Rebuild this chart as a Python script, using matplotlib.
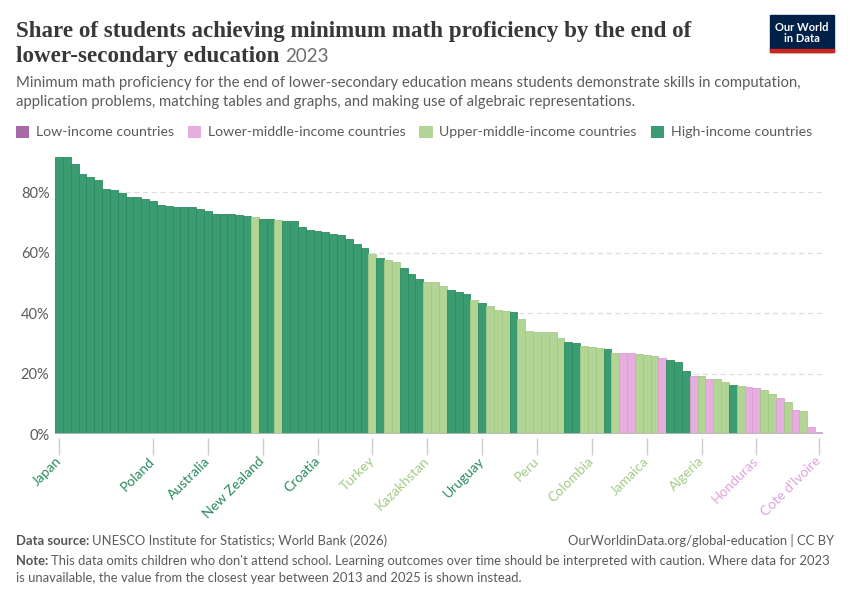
import matplotlib
matplotlib.use("Agg")
import matplotlib.pyplot as plt
from matplotlib.patches import Patch, Rectangle

# values (%), sorted descending
values = [91.8, 91.6, 89.4, 86.2, 85.1, 83.9, 81.0, 80.6, 79.7, 78.4,
          78.4, 77.9, 77.0, 75.7, 75.4, 75.2, 75.2, 75.1, 74.4, 73.7,
          72.8, 72.8, 72.7, 72.6, 72.2, 71.7, 71.3, 71.2, 70.7, 70.6,
          70.4, 68.5, 67.4, 67.1, 66.8, 66.1, 65.9, 64.6, 62.8, 61.4,
          59.5, 58.1, 57.6, 57.0, 55.0, 52.8, 51.4, 50.4, 50.4, 48.9,
          47.6, 46.9, 46.4, 44.3, 43.5, 42.4, 41.1, 40.6, 40.4, 38.0,
          34.2, 33.9, 33.8, 33.6, 31.8, 30.4, 30.0, 29.0, 28.7, 28.5,
          28.0, 26.9, 26.7, 26.7, 26.6, 26.2, 25.9, 25.1, 24.4, 23.7,
          20.8, 19.3, 19.1, 18.3, 18.2, 17.1, 16.1, 15.9, 15.7, 15.3,
          14.5, 13.1, 12.0, 10.7, 7.8, 7.5, 2.2, 0.8]

# income group per bar: H high, U upper-middle, L lower-middle
groups = list("HHHHHHHHHHHHHHHHHHHHHHHHH" "UHHU" "HHHHHHHHHHH"
              "UHUUHHHUUUHHHUHUUUHUUUUUUHHUUUHU" "LLUUULHHHLULUUHULLUULULULL")

# only the labelled countries are named
countries = [""] * len(values)
countries[0] = "Japan"
countries[12] = "Poland"
countries[19] = "Australia"
countries[26] = "New Zealand"
countries[33] = "Croatia"
countries[40] = "Turkey"
countries[47] = "Kazakhstan"
countries[54] = "Uruguay"
countries[61] = "Peru"
countries[68] = "Colombia"
countries[75] = "Jamaica"
countries[82] = "Algeria"
countries[89] = "Honduras"
countries[97] = "Cote d'Ivoire"

legend_names = ["Low-income countries", "Lower-middle-income countries",
                "Upper-middle-income countries", "High-income countries"]
bar_col = {"W": "#a96aa8", "L": "#e6aedf", "U": "#b2d596", "H": "#3a9c70"}
edge_col = {"W": "#98599a", "L": "#dc9fd6", "U": "#a6cb88", "H": "#2f8d62"}
lab_col = {"W": "#9a5a9a", "L": "#e0a2dc", "U": "#a3cc86", "H": "#2a8a5e"}

plt.rcParams["font.family"] = ["Lato", "DejaVu Sans"]

fig = plt.figure(figsize=(8.5, 6), dpi=100)
ax = fig.add_axes([55 / 850, 1 - 434 / 600, 768 / 850, 278 / 600])

# spine position first (it resets the ticks)
for s in ["top", "right", "left"]:
    ax.spines[s].set_visible(False)
ax.spines["bottom"].set_position(("outward", 3))
ax.spines["bottom"].set_visible(False)

xs = range(len(values))
ax.bar(xs, values, width=1.0,
       color=[bar_col[g] for g in groups],
       edgecolor=[edge_col[g] for g in groups], linewidth=0.6)

ax.set_xlim(-0.5, len(values) - 0.5)
ax.set_ylim(0, 92)
ax.set_yticks([0, 20, 40, 60, 80])
ax.set_yticklabels(["0%", "20%", "40%", "60%", "80%"])
ax.tick_params(axis="y", length=0, pad=4, labelsize=10.5, labelcolor="#5b5b5b")
for v in [20, 40, 60, 80]:
    ax.axhline(v, color="#dddddd", lw=0.9, ls=(0, (4, 3)), zorder=0)
ax.axhline(0, color="#bbbbbb", lw=2, zorder=3)

lab_idx = [i for i, c in enumerate(countries) if c]
ax.tick_params(axis="x", length=12, width=1, color="#cccccc", pad=3)
ax.set_xticks(lab_idx)
ax.set_xticklabels([countries[i] for i in lab_idx], fontsize=10)
for t, i in zip(ax.get_xticklabels(), lab_idx):
    t.set_color(lab_col[groups[i]])
    t.set_rotation(45)
    t.set_rotation_mode("anchor")
    t.set_ha("right")
    t.set_va("center")

# header
fig.text(16 / 850, 1 - 37 / 600, "Share of students achieving minimum math proficiency by the end of",
         family="Liberation Serif", weight="bold", fontsize=16.6, color="#383838")
t2 = fig.text(16 / 850, 1 - 62 / 600, "lower-secondary education",
              family="Liberation Serif", weight="bold", fontsize=16.6, color="#383838")
r = fig.canvas.get_renderer()
bb = t2.get_window_extent(r)
fig.text((bb.x1 + 6) / 850, 1 - 62 / 600, "2023", fontsize=13.5, color="#6e6e6e")

fig.text(16 / 850, 1 - 87 / 600,
         "Minimum math proficiency for the end of lower-secondary education means students demonstrate skills in computation,",
         fontsize=10.72, color="#5b5b5b")
fig.text(16 / 850, 1 - 106 / 600,
         "application problems, matching tables and graphs, and making use of algebraic representations.",
         fontsize=10.72, color="#5b5b5b")

handles = [Patch(facecolor=bar_col[g], edgecolor="none") for g in ["W", "L", "U", "H"]]
fig.legend(handles, legend_names, loc="center left", bbox_to_anchor=(3 / 850, 1 - 132 / 600),
           ncol=4, frameon=False, fontsize=10.2, handlelength=0.95, handleheight=0.95,
           handletextpad=0.45, columnspacing=1.0, labelcolor="#5b5b5b")

# logo
fig.patches.append(Rectangle((770 / 850, 1 - 52 / 600), 64 / 850, 37 / 600,
                             transform=fig.transFigure, color="#002147"))
fig.patches.append(Rectangle((770 / 850, 1 - 52 / 600), 64 / 850, 3 / 600,
                             transform=fig.transFigure, color="#ce261e"))
fig.text(802 / 850, 1 - 33 / 600, "Our World\nin Data", ha="center", va="center",
         fontsize=8, color="white", weight="bold", linespacing=0.95)

# footer
fs = 9.4
a = fig.text(16 / 850, 1 - 545 / 600, "Data source:", fontsize=fs, color="#555555", weight="bold")
ea = a.get_window_extent(r)
fig.text((ea.x1 + 3) / 850, 1 - 545 / 600, "UNESCO Institute for Statistics; World Bank (2026)",
         fontsize=fs, color="#5b5b5b")
fig.text(834 / 850, 1 - 545 / 600, "OurWorldinData.org/global-education | CC BY",
         fontsize=fs, color="#5b5b5b", ha="right")
n = fig.text(16 / 850, 1 - 565 / 600, "Note:", fontsize=fs, color="#555555", weight="bold")
en = n.get_window_extent(r)
fig.text((en.x1 + 3) / 850, 1 - 565 / 600,
         "This data omits children who don't attend school. Learning outcomes over time should be interpreted with caution. Where data for 2023",
         fontsize=fs, color="#5b5b5b")
fig.text(16 / 850, 1 - 582 / 600,
         "is unavailable, the value from the closest year between 2013 and 2025 is shown instead.",
         fontsize=fs, color="#5b5b5b")

fig.savefig("out.png", dpi=100)
